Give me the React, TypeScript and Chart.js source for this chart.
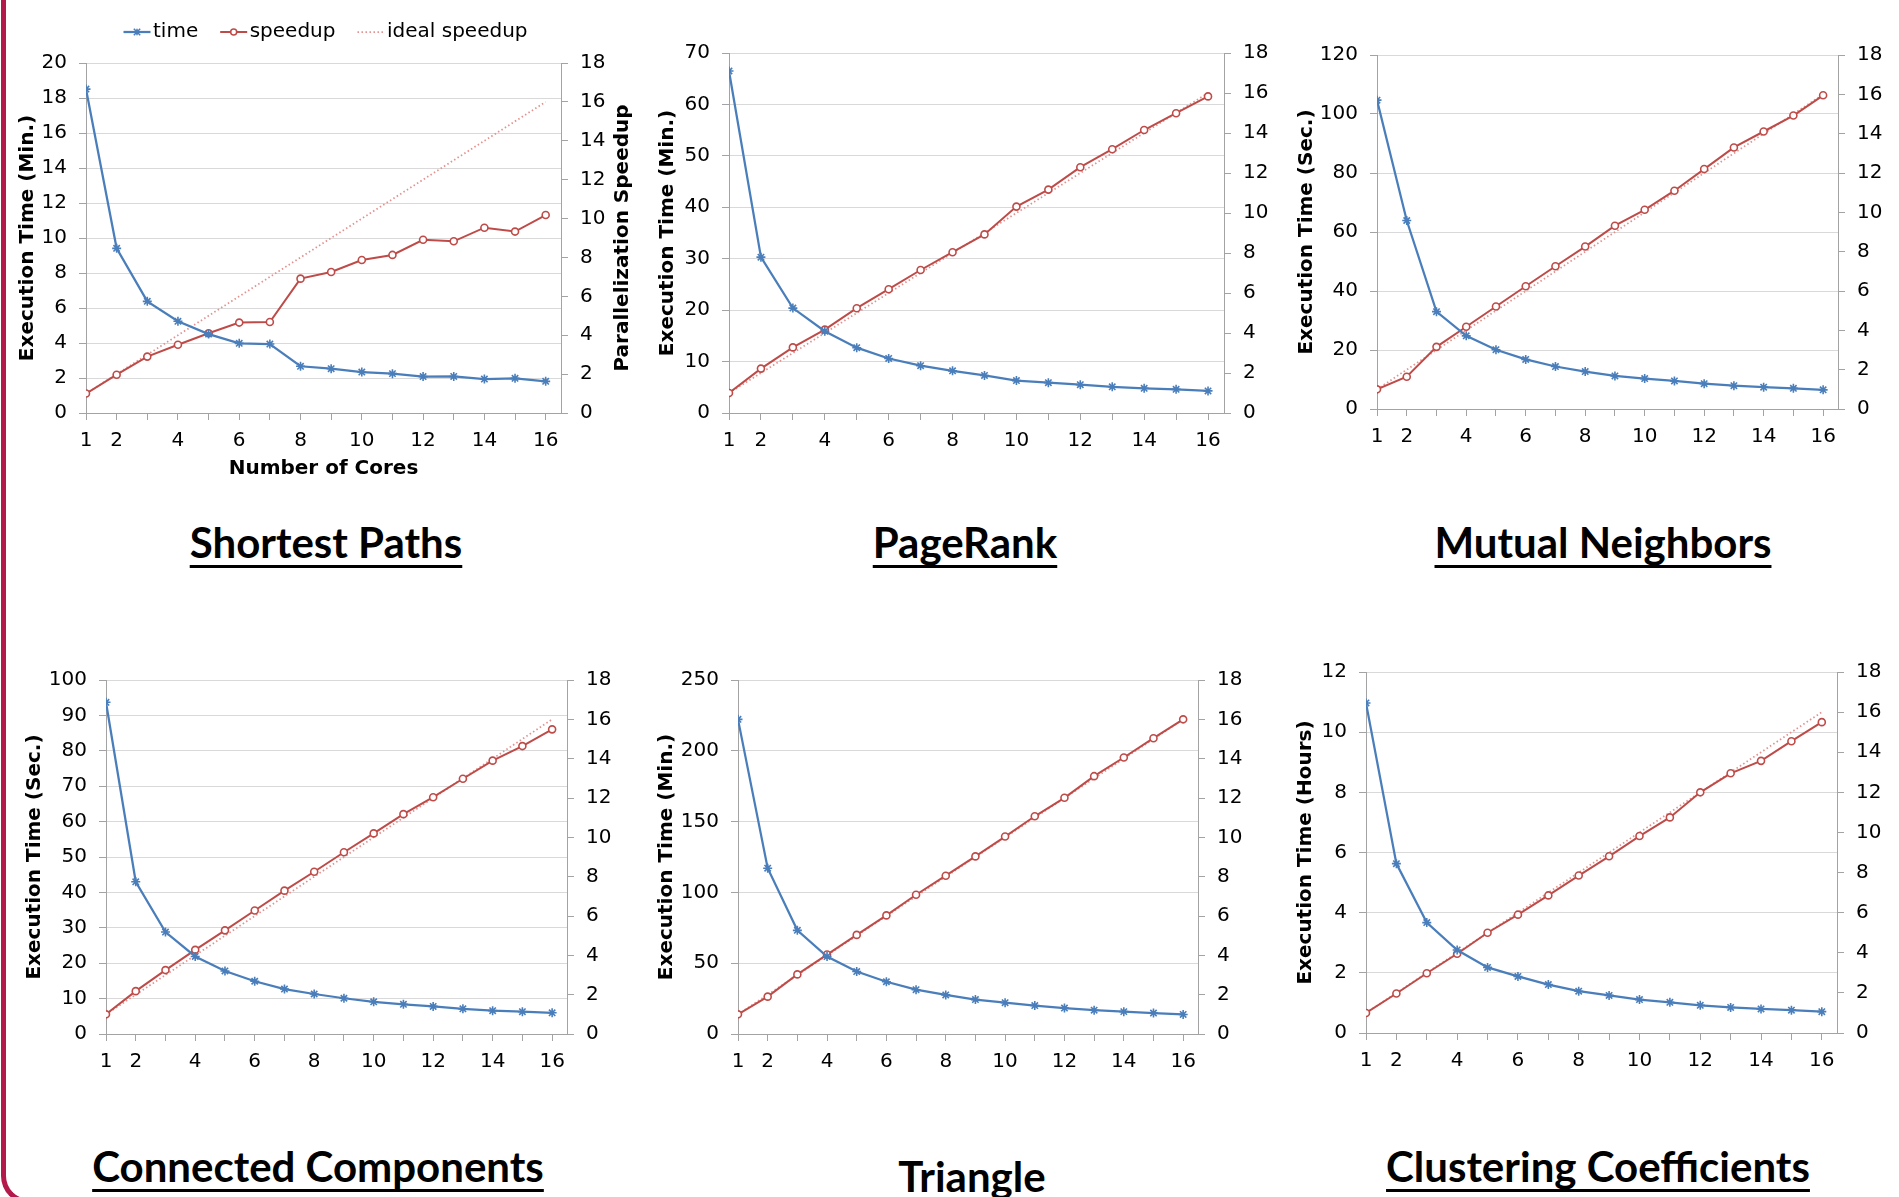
import React, { useEffect, useRef } from 'react';
import { Chart, registerables } from 'chart.js';

Chart.register(...registerables);
Chart.defaults.font.family = '"DejaVu Sans", Verdana, sans-serif';
Chart.defaults.color = '#000';

// ---------- data ----------
const cores = [1, 2, 3, 4, 5, 6, 7, 8, 9, 10, 11, 12, 13, 14, 15, 16];
const xTickLabels = [1, 2, 4, 6, 8, 10, 12, 14, 16];
const idealSpeedup = [1, 2, 3, 4, 5, 6, 7, 8, 9, 10, 11, 12, 13, 14, 15, 16];
const seriesNames = ['time', 'speedup', 'ideal speedup'];

const spTime = [18.51, 9.41, 6.38, 5.24, 4.51, 3.98, 3.94, 2.67, 2.53, 2.34, 2.25, 2.08, 2.09, 1.94, 1.98, 1.81];
const spSpeedup = [1.0, 1.97, 2.9, 3.51, 4.1, 4.65, 4.68, 6.91, 7.25, 7.87, 8.13, 8.91, 8.83, 9.53, 9.33, 10.18];

const prTime = [66.5, 30.3, 20.4, 15.9, 12.7, 10.6, 9.2, 8.2, 7.3, 6.3, 5.9, 5.5, 5.1, 4.8, 4.6, 4.3];
const prSpeedup = [1.0, 2.22, 3.28, 4.17, 5.24, 6.19, 7.15, 8.04, 8.93, 10.32, 11.17, 12.29, 13.19, 14.15, 14.99, 15.83];

const mnTime = [104.7, 63.9, 33.0, 24.8, 20.1, 16.8, 14.4, 12.7, 11.2, 10.3, 9.5, 8.6, 7.9, 7.4, 7.0, 6.5];
const mnSpeedup = [1.0, 1.64, 3.16, 4.18, 5.21, 6.24, 7.26, 8.26, 9.32, 10.13, 11.1, 12.2, 13.3, 14.11, 14.92, 15.95];

const ccTime = [93.7, 43.0, 28.8, 21.9, 17.8, 14.9, 12.7, 11.3, 10.1, 9.1, 8.4, 7.8, 7.1, 6.6, 6.3, 6.0];
const ccSpeedup = [1.0, 2.18, 3.25, 4.28, 5.27, 6.28, 7.29, 8.25, 9.24, 10.2, 11.18, 12.04, 12.98, 13.9, 14.64, 15.49];

const trTime = [222.2, 117.1, 73.2, 54.7, 44.1, 36.9, 31.3, 27.6, 24.3, 22.1, 20.1, 18.3, 16.8, 15.8, 14.8, 13.8];
const trSpeedup = [1.0, 1.9, 3.03, 4.04, 5.04, 6.03, 7.08, 8.05, 9.03, 10.04, 11.07, 12.01, 13.11, 14.06, 15.04, 16.0];

const clTime = [10.97, 5.63, 3.67, 2.76, 2.18, 1.88, 1.61, 1.39, 1.25, 1.11, 1.02, 0.92, 0.85, 0.8, 0.76, 0.71];
const clSpeedup = [1.0, 1.97, 2.98, 3.95, 5.0, 5.9, 6.86, 7.85, 8.81, 9.82, 10.75, 12.0, 12.95, 13.57, 14.55, 15.5];

const panelTitles = ['Shortest Paths', 'PageRank', 'Mutual Neighbors', 'Connected Components', 'Triangle', 'Clustering Coefficients'];
const timeAxisTitles = ['Execution Time (Min.)', 'Execution Time (Min.)', 'Execution Time (Sec.)', 'Execution Time (Sec.)', 'Execution Time (Min.)', 'Execution Time (Hours)'];
const timeAxisMax = [20, 70, 120, 100, 250, 12];
const timeAxisStep = [2, 10, 20, 10, 50, 2];
const speedupAxisMax = 18;
const speedupAxisStep = 2;
const xAxisTitle = 'Number of Cores';
const speedupAxisTitle = 'Parallelization Speedup';

const timeSeries = [spTime, prTime, mnTime, ccTime, trTime, clTime];
const speedupSeries = [spSpeedup, prSpeedup, mnSpeedup, ccSpeedup, trSpeedup, clSpeedup];

// ---------- styles / layout ----------
const BLUE = '#4a7ebb';
const RED = '#be4b48';
const PINK = '#e3918e';
const GRID = '#d9d9d9';
const AXIS = '#a3a3a3';
const FONT = '"DejaVu Sans", Verdana, sans-serif';

type Box = { left: number; top: number; width: number; height: number };
type Area = { left: number; right: number; top: number; bottom: number };
type Layout = { canvas: Box; plot: Area; yTitleCenter: number; title: { cx: number; baseline: number; underline: boolean } };

const layouts: Layout[] = [
  { canvas: { left: 0, top: 0, width: 650, height: 485 }, plot: { left: 86, right: 561, top: 63, bottom: 413 }, yTitleCenter: 27.5, title: { cx: 326, baseline: 558, underline: true } },
  { canvas: { left: 640, top: 0, width: 645, height: 455 }, plot: { left: 729, right: 1224, top: 53, bottom: 413 }, yTitleCenter: 667.8, title: { cx: 965, baseline: 558, underline: true } },
  { canvas: { left: 1270, top: 0, width: 629, height: 455 }, plot: { left: 1377, right: 1838, top: 55, bottom: 409 }, yTitleCenter: 1306.5, title: { cx: 1603, baseline: 558, underline: true } },
  { canvas: { left: 0, top: 640, width: 640, height: 440 }, plot: { left: 106, right: 567, top: 680, bottom: 1034 }, yTitleCenter: 34.7, title: { cx: 318, baseline: 1182, underline: true } },
  { canvas: { left: 640, top: 640, width: 640, height: 440 }, plot: { left: 738, right: 1198, top: 680, bottom: 1034 }, yTitleCenter: 667, title: { cx: 972, baseline: 1192, underline: false } },
  { canvas: { left: 1270, top: 640, width: 629, height: 440 }, plot: { left: 1366, right: 1837, top: 672, bottom: 1033 }, yTitleCenter: 1306.1, title: { cx: 1598, baseline: 1182, underline: true } },
];

const TITLE_FS = 42;

function toXY(vals: number[]) {
  return cores.map((c, i) => ({ x: c, y: vals[i] }));
}

const legendPlugin = {
  id: 'excelLegend',
  afterDraw(chart: any) {
    const ctx = chart.ctx as CanvasRenderingContext2D;
    const area = chart.chartArea;
    const items = chart.data.datasets as any[];
    ctx.save();
    ctx.font = `20px ${FONT}`;
    ctx.textBaseline = 'middle';
    ctx.textAlign = 'left';
    const lineLen = 27;
    const textGap = 2.5;
    const itemGap = 22;
    const widths = items.map((ds) => lineLen + textGap + ctx.measureText(ds.label).width);
    const total = widths.reduce((a, b) => a + b, 0) + itemGap * (items.length - 1);
    let x = (area.left + area.right) / 2 + 2 - total / 2;
    const y = area.top - 31;
    items.forEach((ds, i) => {
      ctx.save();
      ctx.strokeStyle = ds.borderColor;
      ctx.lineWidth = ds.borderWidth;
      ctx.setLineDash(ds.borderDash || []);
      ctx.beginPath();
      ctx.moveTo(x, y);
      ctx.lineTo(x + lineLen, y);
      ctx.stroke();
      ctx.setLineDash([]);
      const cx = x + lineLen / 2;
      if (ds.pointRadius > 0 && ds.pointStyle === 'star') {
        const r = 3.2;
        ctx.lineWidth = 1.5;
        ctx.strokeStyle = ds.pointBorderColor;
        ctx.beginPath();
        ctx.moveTo(cx - r, y - r); ctx.lineTo(cx + r, y + r);
        ctx.moveTo(cx + r, y - r); ctx.lineTo(cx - r, y + r);
        ctx.moveTo(cx, y - r); ctx.lineTo(cx, y + r);
        ctx.stroke();
      } else if (ds.pointRadius > 0) {
        ctx.lineWidth = 1.5;
        ctx.strokeStyle = ds.pointBorderColor;
        ctx.fillStyle = '#fff';
        ctx.beginPath();
        ctx.arc(cx, y, 3, 0, Math.PI * 2);
        ctx.fill();
        ctx.stroke();
      }
      ctx.restore();
      ctx.fillStyle = '#000';
      ctx.fillText(ds.label, x + lineLen + textGap, y);
      x += widths[i] + itemGap;
    });
    ctx.restore();
  },
};

const rightTitlePlugin = {
  id: 'rightTitle',
  afterDraw(chart: any) {
    const ctx = chart.ctx as CanvasRenderingContext2D;
    const area = chart.chartArea;
    ctx.save();
    ctx.translate(area.right + 61.5, (area.top + area.bottom) / 2);
    ctx.rotate(-Math.PI / 2);
    ctx.font = `bold 20px ${FONT}`;
    ctx.fillStyle = '#000';
    ctx.textAlign = 'center';
    ctx.textBaseline = 'middle';
    ctx.fillText(speedupAxisTitle, 0, 0);
    ctx.restore();
  },
};

function Panel({ index }: { index: number }) {
  const ref = useRef<HTMLCanvasElement>(null);
  const lay = layouts[index];
  const first = index === 0;
  useEffect(() => {
    const c = lay.canvas;
    const p = lay.plot;
    const wl = p.left - c.left;
    const wr = c.left + c.width - p.right;
    const padTop = p.top - c.top;
    const hx = c.top + c.height - p.bottom;
    const tickFont = { family: FONT, size: 20 };
    const titleFont = { family: FONT, size: 20, weight: 'bold' as const };
    const chart = new Chart(ref.current as HTMLCanvasElement, {
      type: 'line',
      data: {
        datasets: [
          {
            label: seriesNames[0],
            data: toXY(timeSeries[index]),
            yAxisID: 'y',
            borderColor: BLUE,
            borderWidth: 2.25,
            pointStyle: 'star',
            pointRadius: 4.5,
            pointBorderWidth: 1.6,
            pointBorderColor: BLUE,
            pointBackgroundColor: BLUE,
            tension: 0,
          },
          {
            label: seriesNames[1],
            data: toXY(speedupSeries[index]),
            yAxisID: 'y2',
            borderColor: RED,
            borderWidth: 2,
            pointStyle: 'circle',
            pointRadius: 3.5,
            pointBorderWidth: 1.6,
            pointBorderColor: RED,
            pointBackgroundColor: '#ffffff',
            tension: 0,
          },
          {
            label: seriesNames[2],
            data: toXY(idealSpeedup),
            yAxisID: 'y2',
            borderColor: PINK,
            borderWidth: 1.75,
            borderDash: [1.5, 2.5],
            pointRadius: 0,
            tension: 0,
          },
        ] as any,
      },
      options: {
        responsive: false,
        maintainAspectRatio: false,
        animation: false,
        layout: { padding: { top: padTop, left: 0, right: 0, bottom: 0 } },
        plugins: {
          legend: { display: false },
          tooltip: { enabled: false },
          title: { display: false },
        },
        scales: {
          x: {
            type: 'linear',
            min: 1,
            max: 16.5,
            afterFit: (s: any) => { s.height = hx; },
            ticks: {
              stepSize: 1,
              includeBounds: false,
              autoSkip: false,
              maxRotation: 0,
              minRotation: 0,
              padding: 9,
              font: tickFont,
              color: '#000',
              callback: (v: any) => (xTickLabels.includes(Number(v)) ? String(v) : ''),
            },
            grid: { drawOnChartArea: false, drawTicks: true, tickLength: 7, tickColor: AXIS, tickWidth: 1 },
            border: { display: true, color: AXIS, width: 1 },
            title: first
              ? { display: true, text: xAxisTitle, font: titleFont, color: '#000', padding: { top: 0, bottom: 4 } }
              : { display: false },
          },
          y: {
            type: 'linear',
            position: 'left',
            min: 0,
            max: timeAxisMax[index],
            afterFit: (s: any) => { s.width = wl; },
            ticks: { stepSize: timeAxisStep[index], padding: 12, font: tickFont, color: '#000' },
            grid: { color: GRID, lineWidth: 1, drawTicks: true, tickLength: 7, tickColor: AXIS },
            border: { display: true, color: AXIS, width: 1 },
            title: {
              display: true,
              text: timeAxisTitles[index],
              font: titleFont,
              color: '#000',
              padding: { top: lay.yTitleCenter - c.left - 12, bottom: 0 },
            },
          },
          y2: {
            type: 'linear',
            position: 'right',
            min: 0,
            max: speedupAxisMax,
            afterFit: (s: any) => { s.width = wr; },
            ticks: { stepSize: speedupAxisStep, padding: 12, font: tickFont, color: '#000' },
            grid: { drawOnChartArea: false, drawTicks: true, tickLength: 7, tickColor: AXIS },
            border: { display: true, color: AXIS, width: 1 },
          },
        } as any,
      },
      plugins: first ? [legendPlugin, rightTitlePlugin] : [],
    });
    return () => chart.destroy();
  }, []);
  return (
    <canvas
      ref={ref}
      width={lay.canvas.width}
      height={lay.canvas.height}
      style={{ position: 'absolute', left: lay.canvas.left, top: lay.canvas.top, width: lay.canvas.width, height: lay.canvas.height }}
    />
  );
}

function PanelTitle({ index }: { index: number }) {
  const t = layouts[index].title;
  return (
    <div
      style={{
        position: 'absolute',
        left: t.cx - 400,
        width: 800,
        top: t.baseline - TITLE_FS * 0.887,
        textAlign: 'center',
        fontFamily: 'Lato, "Open Sans", sans-serif',
        fontWeight: 700,
        fontSize: TITLE_FS,
        lineHeight: `${TITLE_FS}px`,
        color: '#000',
        whiteSpace: 'nowrap',
        textDecorationLine: t.underline ? 'underline' : 'none',
        textDecorationThickness: '3px',
        textUnderlineOffset: '7px',
        textDecorationSkipInk: 'none',
      } as any}
    >
      {panelTitles[index]}
    </div>
  );
}

export default function App() {
  return (
    <div style={{ position: 'absolute', left: 0, top: 0, width: 1899, height: 1197, overflow: 'hidden', background: '#fff' }}>
      <div
        style={{
          position: 'absolute',
          left: 1,
          top: -30,
          width: 120,
          height: 1234,
          borderLeft: '5px solid #b4194b',
          borderBottom: '5px solid #b4194b',
          borderBottomLeftRadius: 28,
          boxSizing: 'border-box',
        }}
      />
      {layouts.map((_, i) => (
        <Panel key={'p' + i} index={i} />
      ))}
      {layouts.map((_, i) => (
        <PanelTitle key={'t' + i} index={i} />
      ))}
    </div>
  );
}
